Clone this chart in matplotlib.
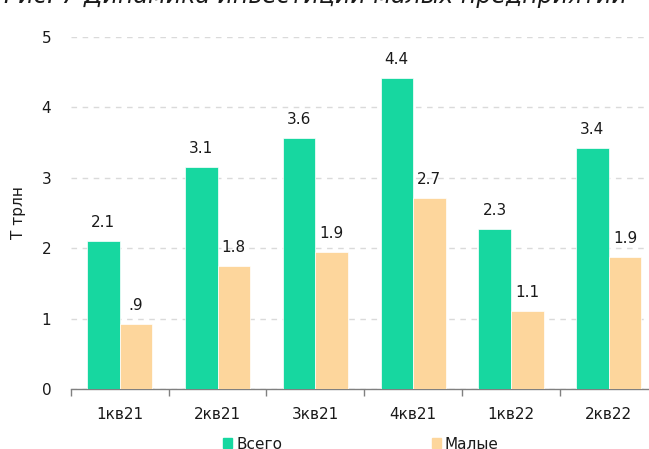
import matplotlib
matplotlib.use("Agg")
import matplotlib.pyplot as plt
import numpy as np
from matplotlib.patches import Rectangle

categories = ["1кв21", "2кв21", "3кв21", "4кв21", "1кв22", "2кв22"]
total = [2.1, 3.15, 3.56, 4.42, 2.27, 3.42]
small = [0.92, 1.75, 1.94, 2.71, 1.11, 1.87]
total_labels = ["2.1", "3.1", "3.6", "4.4", "2.3", "3.4"]
small_labels = [".9", "1.8", "1.9", "2.7", "1.1", "1.9"]
series_names = ["Всего", "Малые"]

c_total = "#17D7A0"
c_small = "#FDD69C"

plt.rcParams['font.family'] = ['DejaVu Sans']
W, H = 649, 449
fig = plt.figure(figsize=(W / 100, H / 100), dpi=100)

left = 70.8 / W
right = 657.6 / W
bottom = 1 - 389 / H
top = 1 - 37 / H
ax = fig.add_axes([left, bottom, right - left, top - bottom])

x = np.arange(len(categories))
bw = 1 / 3
ax.bar(x - bw / 2, total, width=bw, color=c_total, edgecolor="white", linewidth=0.5, zorder=3)
ax.bar(x + bw / 2, small, width=bw, color=c_small, edgecolor="white", linewidth=0.5, zorder=3)

for xi, v, lab in zip(x, total, total_labels):
    ax.annotate(lab, (xi - bw / 2, v), xytext=(0, 8), textcoords="offset points",
                ha="center", va="bottom", fontsize=11, color="#1a1a1a")
for xi, v, lab in zip(x, small, small_labels):
    ax.annotate(lab, (xi + bw / 2, v), xytext=(0, 8), textcoords="offset points",
                ha="center", va="bottom", fontsize=11, color="#1a1a1a")

ax.set_xlim(-0.5, len(categories) - 0.5)
ax.set_ylim(0, 5)
ax.set_yticks(range(0, 6))
ax.yaxis.grid(True, linestyle=(0, (4, 4)), color="#dadada", linewidth=1, zorder=0)
ax.set_axisbelow(True)

for s in ["top", "right", "left"]:
    ax.spines[s].set_visible(False)
ax.spines["bottom"].set_color("#808080")
ax.spines["bottom"].set_linewidth(1)

ax.set_xticks(x)
ax.set_xticklabels(categories, fontsize=11, color="#1a1a1a")
ax.tick_params(axis="x", which="major", length=0, pad=13)
ax.set_xticks(np.arange(-0.5, len(categories)), minor=True)
ax.tick_params(axis="x", which="minor", length=5, color="#808080", width=1)
ax.tick_params(axis="y", length=0, labelsize=11, labelcolor="#1a1a1a", pad=14)
ax.set_ylabel("Т трлн", fontsize=11, color="#1a1a1a", labelpad=11)

# title (partially clipped at top)
fig.text(315 / W, 1 - 2.5 / H, "Рис. 7 Динамика инвестиций малых предприятий",
         ha="center", va="baseline", fontsize=17, style="italic", color="#1a1a1a")

# legend
fig.patches.append(Rectangle((223 / W, 1 - 448 / H), 9 / W, 10 / H,
                             transform=fig.transFigure, color=c_total, figure=fig))
fig.text(236 / W, 1 - 449 / H, series_names[0], ha="left", va="baseline", fontsize=11, color="#1a1a1a")
fig.patches.append(Rectangle((432 / W, 1 - 448 / H), 9 / W, 10 / H,
                             transform=fig.transFigure, color=c_small, figure=fig))
fig.text(445 / W, 1 - 449 / H, series_names[1], ha="left", va="baseline", fontsize=11, color="#1a1a1a")

fig.savefig("out.png", dpi=100)
